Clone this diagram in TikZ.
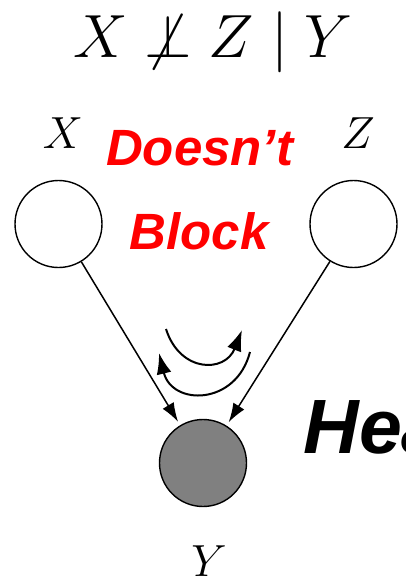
\RequirePackage{fix-cm}
\documentclass[tikz,border=0pt]{standalone}
\usepackage{fontspec}
\newfontfamily\arialfont{Liberation Sans}
\usetikzlibrary{arrows.meta}
\definecolor{nodegray}{RGB}{128,128,128}
\definecolor{textred}{RGB}{255,0,0}
\tikzset{
  var/.style={circle,draw=black,line width=1.4pt,minimum size=87pt,inner sep=0pt},
  link/.style={draw=black,line width=1.5pt,arrows={-Latex[length=19pt,width=13pt]},shorten >=4pt},
  flow/.style={draw=black,line width=2pt,arrows={-Latex[length=21pt,width=15pt]}},
  varlabel/.style={font=\fontsize{45}{45}\selectfont,anchor=base},
  redtxt/.style={text=textred,font=\arialfont\bfseries\itshape\fontsize{51}{51}\selectfont,anchor=base}
}
\begin{document}
\begin{tikzpicture}[x=1pt,y=-1pt]
\useasboundingbox (0,0) rectangle (406,579);
\clip (0,0) rectangle (406,579);
\node[anchor=base,font=\fontsize{61}{61}\selectfont] (title) at (213,57) {$X \not\perp Z \mid Y$};
\node[var] (X) at (58.5,224) {};
\node[var] (Z) at (353.5,224) {};
\node[var,fill=nodegray] (Y) at (203,463) {};
\node[varlabel] (xl) at (63,148) {$X$};
\node[varlabel] (zl) at (358,148) {$Z$};
\node[varlabel] (yl) at (209,576) {$Y$};
\node[redtxt] (doesnt) at (200,165) {Doesn’t};
\node[redtxt] (block) at (199,249) {Block};
\node[anchor=base west,font=\arialfont\bfseries\itshape\fontsize{77}{77}\selectfont] (head) at (300,453) {Head};
\path[link] (X) -- (Y);
\path[link] (Z) -- (Y);
\coordinate (u1) at (166,329);
\coordinate (u2) at (242,330);
\coordinate (l1) at (250,352);
\coordinate (l2) at (159,353);
\path[flow] (u1) .. controls (180,373) and (225,373) .. (u2);
\path[flow] (l1) .. controls (236,406) and (172,406) .. (l2);
\end{tikzpicture}
\end{document}
